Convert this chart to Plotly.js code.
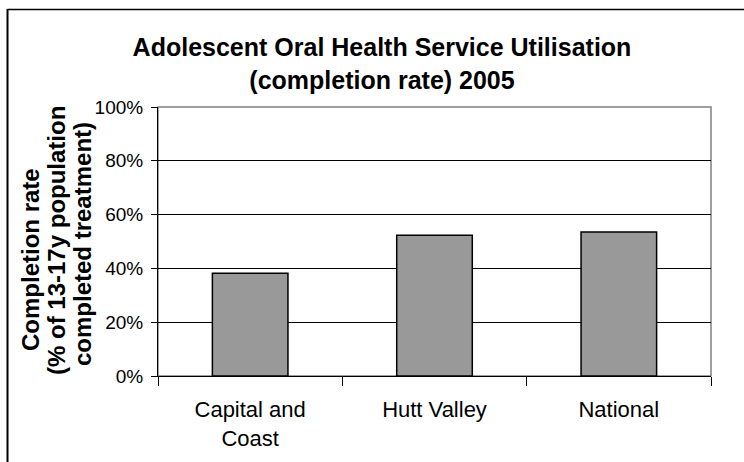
<!DOCTYPE html>
<html>
<head>
<meta charset="utf-8">
<script src="https://cdn.plot.ly/plotly-3.0.1.min.js"></script>
<style>
  html, body { margin: 0; padding: 0; background: #fff; }
  #chart { width: 744px; height: 462px; }
</style>
</head>
<body>
<div id="chart"></div>
<script>
// Data
var categories = ["Capital and<br>Coast", "Hutt Valley", "National"];
var completionRate = [0.382, 0.523, 0.535];
var yTickValues = [0, 0.2, 0.4, 0.6, 0.8, 1.0];
var chartTitle = "Adolescent Oral Health Service Utilisation<br>(completion rate) 2005";
var yTitleLines = ["Completion rate", "(% of 13-17y population", "completed treatment)"];

// Layout geometry (pixels)
var W = 744, H = 462;
var M = { l: 158, r: 33, t: 107, b: 86 };
var plotW = W - M.l - M.r, plotH = H - M.t - M.b;
function px2x(px) { return (px - M.l) / plotW; }
function py2y(py) { return (H - M.b - py) / plotH; }

var FONT = "Liberation Sans, Arial, sans-serif";

var trace = {
  type: "bar",
  x: categories,
  y: completionRate,
  marker: { color: "#999999", line: { color: "#000000", width: 1.5 } },
  hoverinfo: "x+y"
};

var yTitleX = [30, 56, 82];
var yTitleY = [260, 241, 244];
var annotations = yTitleLines.map(function (t, i) {
  return {
    text: "<b>" + t + "</b>",
    xref: "paper", yref: "paper",
    x: px2x(yTitleX[i]), y: py2y(yTitleY[i]),
    xanchor: "center", yanchor: "middle",
    textangle: -90, showarrow: false,
    font: { family: FONT, size: 24, color: "#000" }
  };
});

var layout = {
  width: W, height: H,
  margin: M,
  paper_bgcolor: "#ffffff",
  plot_bgcolor: "#ffffff",
  showlegend: false,
  bargap: 0.59,
  font: { family: FONT, color: "#000" },
  title: {
    text: "<b>" + chartTitle + "</b>",
    font: { family: FONT, size: 25, color: "#000" },
    xref: "container", yref: "container",
    x: 382 / W, xanchor: "center",
    y: 1 - 56 / H, yanchor: "middle"
  },
  xaxis: {
    type: "category",
    tickson: "boundaries",
    ticks: "outside", ticklen: 9, tickcolor: "#000", tickwidth: 1,
    showline: true, linecolor: "#000", linewidth: 1,
    showgrid: false,
    tickfont: { family: FONT, size: 22, color: "#000" },
    ticklabelstandoff: 14,
    fixedrange: true
  },
  yaxis: {
    range: [0, 1],
    tickvals: yTickValues,
    tickformat: ".0%",
    ticks: "outside", ticklen: 6, tickcolor: "#000", tickwidth: 1,
    showline: true, linecolor: "#000", linewidth: 1,
    showgrid: true, gridcolor: "#000", gridwidth: 1,
    zeroline: false,
    tickfont: { family: FONT, size: 19, color: "#000" },
    ticklabelstandoff: 4,
    fixedrange: true
  },
  shapes: [
    // plot area grey border (top/right)
    { type: "rect", xref: "paper", yref: "paper", x0: 0, x1: 1, y0: 0, y1: 1,
      line: { color: "#808080", width: 1.5 }, layer: "below" },
    // outer frame: top line
    { type: "line", xref: "paper", yref: "paper",
      x0: px2x(7.5), x1: px2x(760), y0: py2y(9.5), y1: py2y(9.5),
      line: { color: "#000", width: 1.5 } },
    // outer frame: left line
    { type: "line", xref: "paper", yref: "paper",
      x0: px2x(7.5), x1: px2x(7.5), y0: py2y(9), y1: py2y(480),
      line: { color: "#000", width: 2 } }
  ],
  annotations: annotations
};

Plotly.newPlot("chart", [trace], layout, { displayModeBar: false, staticPlot: true });
</script>
</body>
</html>
